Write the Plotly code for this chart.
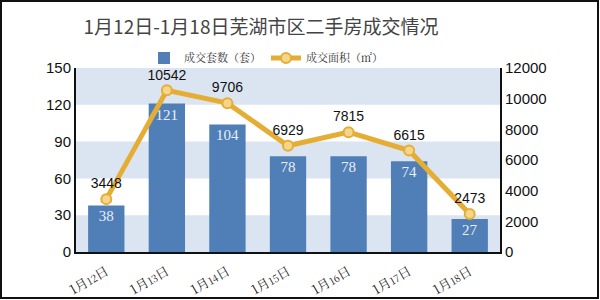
import plotly.graph_objects as go

dates = ["1月12日", "1月13日", "1月14日", "1月15日", "1月16日", "1月17日", "1月18日"]
day_nums = ["12", "13", "14", "15", "16", "17", "18"]
counts = [38, 121, 104, 78, 78, 74, 27]
areas = [3448, 10542, 9706, 6929, 7815, 6615, 2473]
left_ticks = [0, 30, 60, 90, 120, 150]
right_ticks = [0, 2000, 4000, 6000, 8000, 10000, 12000]
tick_text = ["1月<span style='font-size:10px'>%s</span>日" % d for d in day_nums]

L, R, T, B = 76, 100, 68, 48
W, H = 600, 300
pw, ph = W - L - R, H - T - B

fig = go.Figure()
fig.add_trace(go.Bar(
    x=dates, y=counts, name="成交套数（套）",
    marker=dict(color="#4f7fb6", line=dict(width=0)),
    width=0.6,
    text=[str(v) for v in counts], textposition="inside", insidetextanchor="end",
    textfont=dict(family="Liberation Serif, serif", size=15, color="#e8eef8"),
    yaxis="y",
))
fig.add_trace(go.Scatter(
    x=dates, y=areas, name="成交面积（㎡）", mode="lines+markers+text",
    line=dict(color="#e6ad35", width=5),
    marker=dict(size=10, color="#f3d58c", line=dict(color="#e6ad35", width=2)),
    text=[str(v) for v in areas], textposition="top center",
    textfont=dict(family="Liberation Sans, Arial", size=14, color="#111"),
    yaxis="y2",
))

shapes = []
for lo, hi in [(0, 30), (60, 90), (120, 150)]:
    shapes.append(dict(type="rect", xref="paper", yref="y", x0=0, x1=1, y0=lo, y1=hi,
                       fillcolor="#dbe5f1", line=dict(width=0), layer="below"))
shapes.append(dict(type="rect", xref="paper", yref="paper",
                   x0=(1 - L) / pw, x1=(598 - L) / pw,
                   y0=(H - B - 298) / ph, y1=(H - B - 1) / ph,
                   line=dict(color="#111", width=2), fillcolor="rgba(0,0,0,0)"))

fig.update_layout(
    width=W, height=H,
    margin=dict(l=L, r=R, t=T, b=B, autoexpand=False),
    paper_bgcolor="white", plot_bgcolor="white",
    showlegend=True,
    title=dict(text="1月12日-1月18日芜湖市区二手房成交情况", x=261 / W, xanchor="center",
               y=1 - 27 / H, yanchor="middle",
               font=dict(family="Noto Sans CJK SC", size=19, color="#444")),
    legend=dict(orientation="h", x=(266 - L) / pw, xanchor="center",
                y=(H - B - 58) / ph, yanchor="middle",
                font=dict(family="Noto Serif CJK SC, Noto Sans CJK SC", size=11, color="#333"),
                bgcolor="rgba(0,0,0,0)"),
    xaxis=dict(tickvals=dates, ticktext=tick_text, tickangle=-30, automargin=False,
               ticklabelstandoff=5,
               tickfont=dict(family="Noto Serif CJK SC, Noto Sans CJK SC", size=13, color="#222"),
               showline=True, linecolor="#111", linewidth=2, ticks="", showgrid=False),
    yaxis=dict(range=[0, 150], tickvals=left_ticks, ticktext=[str(v) for v in left_ticks],
               automargin=False,
               tickfont=dict(family="Liberation Sans, Arial", size=15, color="#111"),
               showline=True, linecolor="#111", linewidth=2, showgrid=False, zeroline=False),
    yaxis2=dict(range=[0, 12000], tickvals=right_ticks, ticktext=[str(v) for v in right_ticks],
                overlaying="y", side="right", automargin=False,
                tickfont=dict(family="Liberation Sans, Arial", size=15, color="#111"),
                showline=True, linecolor="#111", linewidth=2, showgrid=False, zeroline=False),
    shapes=shapes,
)
fig.write_html("out.html")
